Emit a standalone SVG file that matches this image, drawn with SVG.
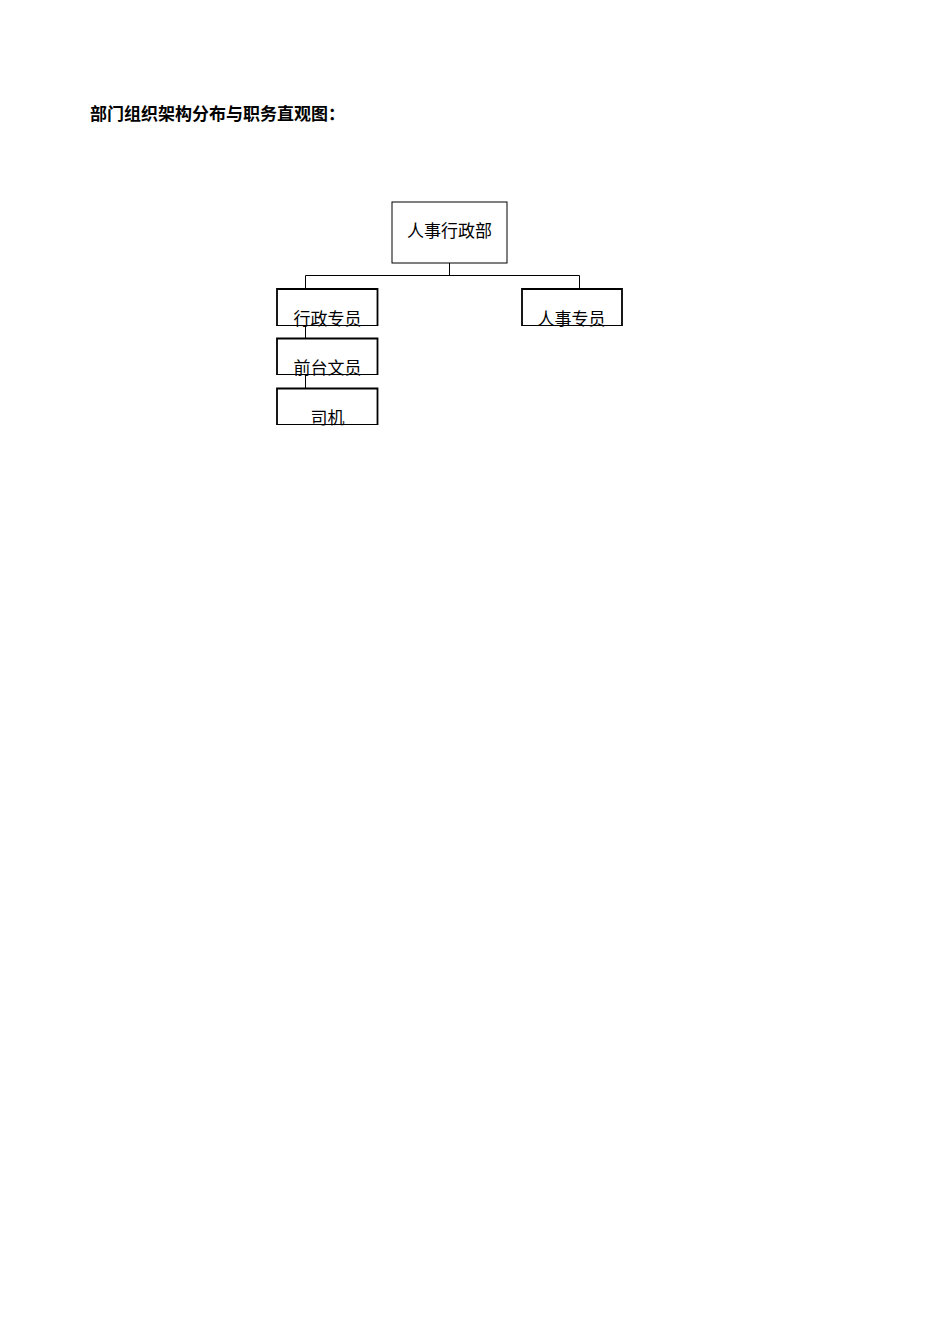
<svg xmlns="http://www.w3.org/2000/svg" width="950" height="1344" viewBox="0 0 950 1344">
<style>
.t{font-family:"Noto Sans CJK SC","Liberation Sans",sans-serif;font-size:17px;fill:#000;text-anchor:middle}
.h{font-family:"Noto Sans CJK SC","Liberation Sans",sans-serif;font-size:17px;font-weight:bold;fill:#000}
.side{fill:none;stroke:#000;stroke-width:1.8}
.bot{stroke:#000;stroke-width:1}
.c{fill:none;stroke:#000;stroke-width:1}
</style>
<rect width="950" height="1344" fill="#fff"/>
<text class="h" x="90" y="120">部门组织架构分布与职务直观图：</text>
<g id="connectors">
<path class="c" d="M449.5 263V275.5M305.5 289V275.5H579.5V289"/>
<path class="c" d="M305.5 326V338M305.5 375V388"/>
</g>
<g id="n0">
<rect x="392" y="202" width="115" height="61" fill="#fff" stroke="#000" stroke-width="1"/>
<text class="t" x="449.5" y="237">人事行政部</text>
</g>
<g id="n1">
<path class="side" d="M277 326V289H377.5V326"/>
<line class="bot" x1="277" y1="325.5" x2="377.5" y2="325.5"/>
<text class="t" x="327.5" y="325">行政专员</text>
</g>
<g id="n2">
<path class="side" d="M522 326V289H622V326"/>
<line class="bot" x1="522" y1="325.5" x2="622" y2="325.5"/>
<text class="t" x="571.5" y="325">人事专员</text>
</g>
<g id="n3">
<path class="side" d="M277 375V338.5H377.5V375"/>
<line class="bot" x1="277" y1="374.5" x2="377.5" y2="374.5"/>
<text class="t" x="327.5" y="374">前台文员</text>
</g>
<g id="n4">
<path class="side" d="M277 425V388.5H377.5V425"/>
<line class="bot" x1="277" y1="424.5" x2="377.5" y2="424.5"/>
<text class="t" x="327.5" y="424">司机</text>
</g>
</svg>
